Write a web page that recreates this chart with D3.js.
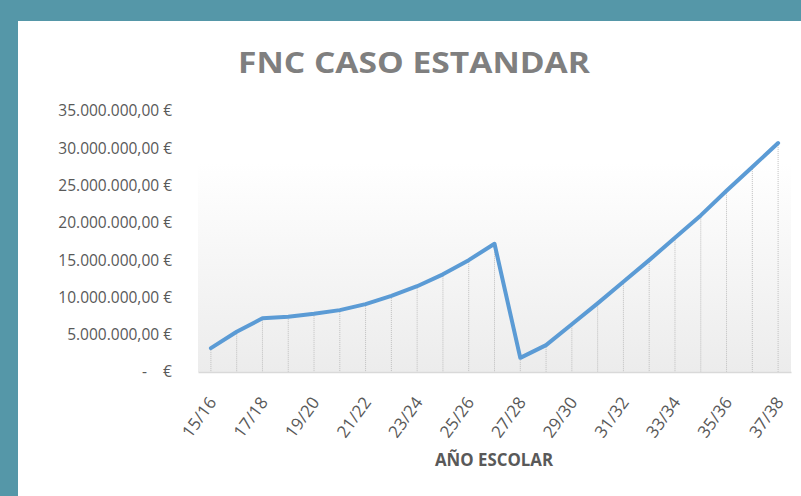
<!DOCTYPE html>
<html>
<head>
<meta charset="utf-8">
<script src="https://cdn.jsdelivr.net/npm/d3@7"></script>
<style>
  body { margin: 0; background: #5597a8; }
  svg { display: block; }
  .tick text { font-family: "Open Sans", sans-serif; fill: #595959; white-space: pre; }
</style>
</head>
<body>
<div id="chart"></div>
<script>
// Data
//= ================================
const years = ["15/16", "16/17", "17/18", "18/19", "19/20", "20/21", "21/22", "22/23",
    "23/24", "24/25", "25/26", "26/27", "27/28", "28/29", "29/30", "30/31", "31/32",
    "32/33", "33/34", "34/35", "35/36", "36/37", "37/38"];
const fnc = [3.2e6, 5.4e6, 7.2e6, 7.4e6, 7.8e6, 8.3e6, 9.1e6, 10.2e6, 11.5e6, 13.1e6,
    15.0e6, 17.2e6, 1.9e6, 3.6e6, 6.4e6, 9.2e6, 12.1e6, 15.0e6, 18.0e6, 21.0e6,
    24.3e6, 27.5e6, 30.7e6];
const yTicks = [0, 5e6, 10e6, 15e6, 20e6, 25e6, 30e6, 35e6];

const svgWidth = 801;
const svgHeight = 496;

const margin = { top: 111, right: 10, bottom: 124, left: 198 };
const width = svgWidth - margin.left - margin.right;
const height = svgHeight - margin.top - margin.bottom;

const svg = d3.select("#chart")
    .append("svg")
    .attr("width", svgWidth)
    .attr("height", svgHeight);

// teal frame + white card
svg.append("rect")
    .attr("x", 0).attr("y", 0)
    .attr("width", svgWidth).attr("height", svgHeight)
    .attr("fill", "#5597a8");
svg.append("rect")
    .attr("x", 18).attr("y", 21)
    .attr("width", svgWidth - 18).attr("height", svgHeight - 21)
    .attr("fill", "#ffffff");

const defs = svg.append("defs");
const grad = defs.append("linearGradient")
    .attr("id", "bg")
    .attr("x1", 0).attr("y1", 0).attr("x2", 0).attr("y2", 1);
grad.append("stop").attr("offset", "0%").attr("stop-color", "#ffffff");
grad.append("stop").attr("offset", "20%").attr("stop-color", "#ffffff");
grad.append("stop").attr("offset", "100%").attr("stop-color", "#ececec");

const chartGroup = svg.append("g")
    .attr("transform", `translate(${margin.left}, ${margin.top})`);

chartGroup.append("rect")
    .attr("width", width)
    .attr("height", height)
    .attr("fill", "url(#bg)");

// scales
const xScale = d3.scalePoint()
    .domain(years)
    .range([0, width])
    .padding(0.5);

const yScale = d3.scaleLinear()
    .domain([0, 35e6])
    .range([height, 0]);

const euro = d3.formatLocale({ decimal: ",", thousands: ".", grouping: [3], currency: ["", " €"] });
const fmt = v => v === 0 ? "-    €" : euro.format(",.2f")(v) + " €";

// y axis
const leftAxis = d3.axisLeft(yScale)
    .tickValues(yTicks)
    .tickSize(0)
    .tickPadding(26)
    .tickFormat(fmt);

chartGroup.append("g")
    .style("font-size", "15.5px")
    .call(leftAxis)
    .call(g => g.select(".domain").remove());

// drop lines
chartGroup.selectAll("line.drop")
    .data(fnc)
    .enter()
    .append("line")
    .attr("class", "drop")
    .attr("x1", (d, i) => xScale(years[i]))
    .attr("x2", (d, i) => xScale(years[i]))
    .attr("y1", d => yScale(d))
    .attr("y2", height)
    .attr("stroke", "#bfbfbf")
    .attr("stroke-width", 1)
    .attr("stroke-dasharray", "1,1");

// x axis
const bottomAxis = d3.axisBottom(xScale)
    .tickValues(years.filter((d, i) => i % 2 === 0))
    .tickSize(0)
    .tickPadding(8);

const xAxisG = chartGroup.append("g")
    .attr("transform", `translate(0, ${height})`)
    .style("font-size", "17px")
    .call(bottomAxis);

xAxisG.select(".domain").attr("stroke", "#d9d9d9").attr("stroke-width", 1.5);
xAxisG.selectAll(".tick text")
    .attr("text-anchor", "end")
    .attr("dy", "0.35em")
    .attr("transform", "translate(1, 27) rotate(-54)")
    .attr("y", 0)
    .attr("x", 0);

// line
const line = d3.line()
    .x((d, i) => xScale(years[i]))
    .y(d => yScale(d));

chartGroup.append("path")
    .datum(fnc)
    .attr("d", line)
    .attr("fill", "none")
    .attr("stroke", "#5b9bd5")
    .attr("stroke-width", 4)
    .attr("stroke-linejoin", "round")
    .attr("stroke-linecap", "round");

// title
svg.append("text")
    .attr("x", 238)
    .attr("y", 73)
    .attr("textLength", 352)
    .attr("lengthAdjust", "spacingAndGlyphs")
    .style("font-family", "'Open Sans', sans-serif")
    .style("font-weight", "bold")
    .style("font-size", "28px")
    .attr("fill", "#7f7f7f")
    .text("FNC CASO ESTANDAR");

// x axis title
svg.append("text")
    .attr("x", 435)
    .attr("y", 466)
    .attr("textLength", 118)
    .attr("lengthAdjust", "spacingAndGlyphs")
    .style("font-family", "'Open Sans', sans-serif")
    .style("font-weight", "bold")
    .style("font-size", "17px")
    .attr("fill", "#595959")
    .text("AÑO ESCOLAR");
</script>
</body>
</html>
